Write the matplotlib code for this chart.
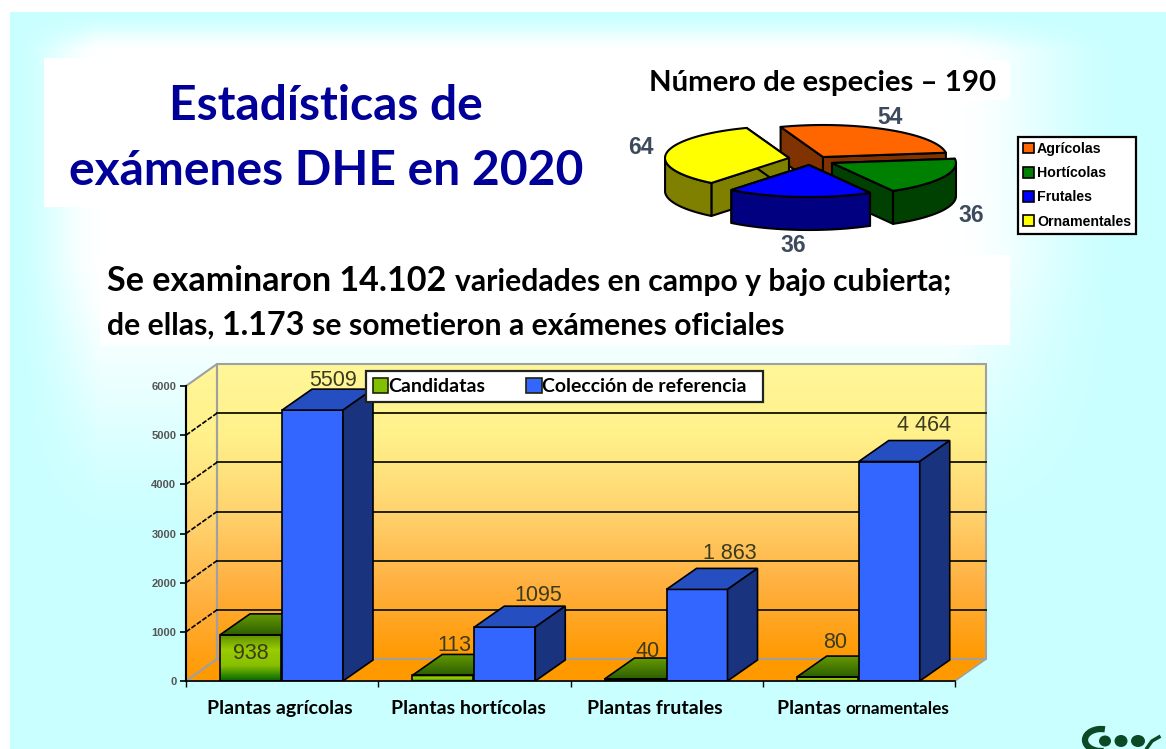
#!/usr/bin/env python3
"""Estadísticas de exámenes DHE en 2020: tarta 3D y barras 3D dibujadas a mano."""

import numpy as np
import matplotlib
matplotlib.use('Agg')
import matplotlib.pyplot as plt
from matplotlib.patches import Arc, Ellipse, Patch, Polygon, Rectangle

# datos
especies_cat = ['Agrícolas', 'Hortícolas', 'Frutales', 'Ornamentales']
especies_val = [54, 36, 36, 64]
especies_txt = ['54', '36', '36', '64']

plantas_cat = ['Plantas agrícolas', 'Plantas hortícolas', 'Plantas frutales']
candidatas = [938, 113, 40, 80]
coleccion = [5509, 1095, 1863, 4464]
candidatas_txt = ['938', '113', '40', '80']
coleccion_txt = ['5509', '1095', '1 863', '4 464']
y_ticks = [0, 1000, 2000, 3000, 4000, 5000, 6000]

# colores y geometría
W, H = 1166, 749
SANS = ['Lato', 'DejaVu Sans']
ARIAL = ['Liberation Sans', 'DejaVu Sans']
TOPS = ['#ff6600', '#008000', '#0000ff', '#ffff00']
SIDES = ['#803300', '#004000', '#000080', '#808000']
APEX = [(823, 157), (832, 163), (809, 165), (789, 158)]
PIE_A, PIE_B, PIE_DEPTH, PIE_START = 124, 32, 33, 110
ORDEN_PIE = [0, 3, 1, 2]

X0, X1, Y0, Y6000 = 186, 955, 681, 386
DX_PX, DY_PX = 31, 22

fig = plt.figure(figsize=(W / 100, H / 100), dpi=100)
bg = fig.add_axes([0, 0, 1, 1])
bg.set_xlim(0, W)
bg.set_ylim(H, 0)
bg.axis('off')


def fondo():
    """Fondo cian con zona blanca arriba y al centro."""
    x = np.linspace(10, W, 400)
    y = np.linspace(12, H, 300)
    fx = np.interp(x, [10, 100, 950, 1130], [0, 1, 1, 0])
    fy = np.interp(y, [12, 50, 260, 560], [0, 1, 1, 0])
    t = np.outer(fy, fx)
    t = (t * t * (3 - 2 * t))[..., None]
    c0 = np.array([0.79, 1.0, 1.0])
    c1 = np.array([1.0, 1.0, 1.0])
    bg.imshow(c0 + (c1 - c0) * t, extent=(10, W, H, 12), aspect='auto', zorder=0)
    bg.set_xlim(0, W)
    bg.set_ylim(H, 0)


def secuencia(ax, x, y, trozos, color='black', centro=False):
    """Escribe trozos de texto con distinto tamaño sobre la misma base."""
    r = fig.canvas.get_renderer()
    inicio = x
    arts = []
    for txt, size in trozos:
        t = ax.text(x, y, txt, fontsize=size, family=SANS, weight='bold',
                    color=color, ha='left', va='baseline', zorder=5)
        x += t.get_window_extent(r).width
        arts.append(t)
    if centro:
        d = (x - inicio) / 2
        for t in arts:
            t.set_x(t.get_position()[0] - d)


def tarta():
    grados = np.array(especies_val) / sum(especies_val) * 360
    ini = PIE_START - np.concatenate([[0], np.cumsum(grados)[:-1]])
    for i in ORDEN_PIE:
        cx, cy = APEX[i]
        th = np.radians(np.linspace(ini[i], ini[i] - grados[i], 60))
        bx = cx + PIE_A * np.cos(th)
        by = cy - PIE_B * np.sin(th)
        kw = dict(edgecolor='black', linewidth=1.5, joinstyle='round', zorder=3)
        for px, py in [(bx[0], by[0]), (bx[-1], by[-1])]:
            cara = [(cx, cy), (px, py), (px, py + PIE_DEPTH), (cx, cy + PIE_DEPTH)]
            bg.add_patch(Polygon(cara, facecolor=SIDES[i], **kw))
        frente = np.sin(th) < 0
        if frente.any():
            fx, fy = bx[frente], by[frente]
            pared = list(zip(fx, fy)) + list(zip(fx[::-1], fy[::-1] + PIE_DEPTH))
            bg.add_patch(Polygon(pared, facecolor=SIDES[i], **kw))
        bg.add_patch(Polygon([(cx, cy)] + list(zip(bx, by)), facecolor=TOPS[i], **kw))

    for txt, (x, y) in zip(especies_txt, [(890, 118), (971, 215), (793, 246), (641, 148)]):
        bg.text(x, y, txt, fontsize=16.5, family=ARIAL, weight='bold', color='#3c4a5c',
                ha='center', va='center', zorder=5)

    manejas = [Patch(facecolor=c, edgecolor='black', linewidth=1.2) for c in TOPS]
    leg = bg.legend(manejas, especies_cat, loc='upper left',
                    bbox_to_anchor=(1018 / W, 1 - 137 / H), bbox_transform=fig.transFigure,
                    prop={'family': ARIAL, 'weight': 'bold', 'size': 10.2},
                    fancybox=False, framealpha=1, edgecolor='black', borderaxespad=0,
                    handlelength=0.8, handleheight=0.8, handletextpad=0.2,
                    labelspacing=0.72, borderpad=0.35)
    leg.set_zorder(4)
    leg.get_frame().set_linewidth(1.6)


def cabecera():
    for x, y, w, h in [(44, 58, 571, 149), (640, 60, 370, 40), (100, 255, 910, 90)]:
        bg.add_patch(Rectangle((x, y), w, h, facecolor='white', edgecolor='none', zorder=1))
    azul = '#000099'
    bg.text(326, 120, 'Estadísticas de', fontsize=34.6, family=SANS, weight='bold',
            color=azul, ha='center', va='baseline', zorder=5)
    bg.text(326, 185, 'exámenes DHE en 2020', fontsize=34.6, family=SANS, weight='bold',
            color=azul, ha='center', va='baseline', zorder=5)
    bg.text(823, 91, 'Número de especies – 190', fontsize=21.2, family=SANS, weight='bold',
            color='black', ha='center', va='baseline', zorder=5)
    secuencia(bg, 107, 291, [('Se examinaron 14.102 ', 24.6), ('variedades en campo y bajo cubierta;', 21.7)])
    secuencia(bg, 107, 335, [('de ellas, ', 21.7), ('1.173 ', 23.2), ('se sometieron a exámenes oficiales', 21.7)])


def degradado(ax_img, extent, colores, clip, zorder):
    n = len(colores)
    v = np.linspace(0, n - 1, 256)
    rgb = np.array([matplotlib.colors.to_rgb(c) for c in colores])
    img = np.stack([np.interp(v, np.arange(n), rgb[:, k]) for k in range(3)], axis=1)[:, None, :]
    im = ax_img.imshow(img, extent=extent, aspect='auto', zorder=zorder, origin='upper')
    im.set_clip_path(clip)


def barras():
    # paredes en coordenadas de píxel, por debajo de las barras
    pared = ['#fff799', '#fff08a', '#ffd36e', '#ffb040', '#ff9900']
    bx0, bx1 = X0 + DX_PX, X1 + DX_PX
    by1, by0 = Y6000 - DY_PX, Y0 - DY_PX
    fondo_p = Polygon([(bx0, by1), (bx1, by1), (bx1, by0), (bx0, by0)], facecolor='none',
                      edgecolor='#a0a0a0', lw=1.5, zorder=1.6)
    izq = Polygon([(X0, Y6000), (bx0, by1), (bx0, by0), (X0, Y0)], facecolor='none',
                  edgecolor='#a0a0a0', lw=1.5, zorder=1.6)
    suelo = Polygon([(X0, Y0), (bx0, by0), (bx1, by0), (X1, Y0)], facecolor='#ff9900',
                    edgecolor='#a0a0a0', lw=1.2, zorder=1.55)
    for p in (fondo_p, izq, suelo):
        bg.add_patch(p)
    degradado(bg, (bx0, bx1, by0, by1), pared, fondo_p, 1.5)
    degradado(bg, (X0, bx0, Y0, by1), pared, izq, 1.5)
    bg.set_xlim(0, W)
    bg.set_ylim(H, 0)

    ax = fig.add_axes([X0 / W, 1 - Y0 / H, (X1 - X0) / W, (Y0 - Y6000) / H])
    ax.patch.set_alpha(0)
    ax.set_xlim(0, 4)
    ax.set_ylim(0, 6000)
    ax.set_zorder(2)
    for s in ('top', 'right'):
        ax.spines[s].set_visible(False)
    ax.spines['left'].set_linewidth(1.5)
    ax.spines['bottom'].set_linewidth(1.2)

    u_x = (X1 - X0) / 4
    u_y = 6000 / (Y0 - Y6000)
    gx, gy = DX_PX / u_x, DY_PX * u_y
    dx, dy = 30 / u_x, 21 * u_y

    for v in y_ticks[1:-1]:
        ax.plot([gx, 4 + gx], [v + gy, v + gy], color='#222200', lw=1.4, zorder=1, clip_on=False)
        ax.plot([0, gx], [v, v + gy], color='black', lw=1.2, ls=(0, (3, 1)), zorder=1, clip_on=False)

    ancho = 61 / u_x
    off_c = 34 / u_x
    off_a = 96 / u_x
    for i, (c, a) in enumerate(zip(candidatas, coleccion)):
        x = i + off_c
        z = 2 + i * 0.1
        barra = ax.bar(x, c, ancho, align='edge', facecolor='none', edgecolor='black', lw=1.2, zorder=z + 0.02)[0]
        degradado(ax, (x, x + ancho, 0, c), ['#5c8c00', '#99cc00', '#88c000', '#006600'], barra, z + 0.01)
        techo = Polygon([(x, c), (x + dx, c + dy), (x + ancho + dx, c + dy), (x + ancho, c)],
                        facecolor='none', edgecolor='black', lw=1.2, zorder=z + 0.02)
        ax.add_patch(techo)
        degradado(ax, (x, x + ancho + dx, c, c + dy), ['#669900', '#2c5f00'], techo, z + 0.01)
        ax.set_xlim(0, 4)
        ax.set_ylim(0, 6000)

        x = i + off_a
        ax.bar(x, a, ancho, align='edge', facecolor='#3366ff', edgecolor='black', lw=1.2, zorder=z + 0.06)
        ax.add_patch(Polygon([(x, a), (x + dx, a + dy), (x + ancho + dx, a + dy), (x + ancho, a)],
                             facecolor='#254fc0', edgecolor='black', lw=1.2, zorder=z + 0.06))
        ax.add_patch(Polygon([(x + ancho, 0), (x + ancho + dx, dy), (x + ancho + dx, a + dy), (x + ancho, a)],
                             facecolor='#1a337f', edgecolor='black', lw=1.2, zorder=z + 0.06))

    etiqueta = dict(family=ARIAL, fontsize=15.5, color='#3b3b1e', ha='center', va='center',
                    textcoords='offset pixels', annotation_clip=False)
    for i, (txt, c, off) in enumerate(zip(candidatas_txt, candidatas, [(0, -19), (12, 30), (13, 28), (8, 35)])):
        ax.annotate(txt, (i + off_c + ancho / 2, c), xytext=off, zorder=2.05 + i * 0.1, **etiqueta)
    for i, (txt, a, off) in enumerate(zip(coleccion_txt, coleccion, [(21, 30), (33, 32), (33, 36), (35, 36)])):
        ax.annotate(txt, (i + off_a + ancho / 2, a), xytext=off, zorder=2.9, **etiqueta)

    ax.set_xticks(range(5))
    ax.set_xticklabels([])
    ax.set_xticks([0.49, 1.47, 2.44], labels=plantas_cat, minor=True,
                  family=SANS, fontsize=14, weight='bold')
    ax.tick_params(axis='x', which='minor', length=0, pad=14)
    ax.tick_params(axis='x', which='major', length=4, width=1)
    ax.set_yticks(y_ticks)
    ax.set_yticklabels([str(v) for v in y_ticks], family=ARIAL, fontsize=8, weight='bold', color='#555555')
    ax.tick_params(axis='y', length=4, width=1.2, pad=3)

    manejas = [Patch(facecolor='#80c000', edgecolor='#222200', linewidth=1.2),
               Patch(facecolor='#3366ff', edgecolor='#222200', linewidth=1.2)]
    leg = ax.legend(manejas, ['Candidatas', 'Colección de referencia  '], ncols=2, loc='upper left',
                    bbox_to_anchor=(366 / W, 1 - 371 / H), bbox_transform=fig.transFigure,
                    prop={'family': SANS, 'weight': 'bold', 'size': 14}, fancybox=False,
                    framealpha=1, edgecolor='#222222', borderaxespad=0, handlelength=0.8,
                    handleheight=0.8, handletextpad=0.0, columnspacing=2.1, borderpad=0.35)
    leg.set_zorder(4)
    leg.get_frame().set_linewidth(1.6)

    secuencia(bg, 863, 714, [('Plantas ', 14), ('ornamentales', 12.3)], centro=True)


def logo():
    verde = '#0a4a26'
    bg.add_patch(Arc((1101, 740), 32, 22, theta1=75, theta2=290, edgecolor=verde, lw=4.5, zorder=5))
    for x, w, h in [(1105, 12, 11), (1121, 13, 12), (1138, 14, 12)]:
        bg.add_patch(Ellipse((x, 741), w, h, facecolor=verde, edgecolor='none', zorder=5))
    bg.plot([1147, 1152, 1159], [748, 741, 737], color=verde, lw=2.5, zorder=5)


def main():
    fondo()
    fig.canvas.draw()
    cabecera()
    tarta()
    barras()
    logo()
    plt.savefig('out.png', dpi=100)


if __name__ == '__main__':
    main()
